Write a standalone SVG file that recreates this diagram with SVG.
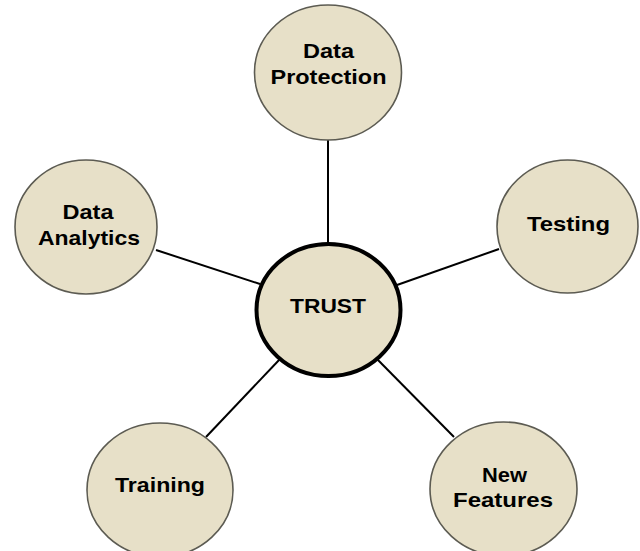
<svg xmlns="http://www.w3.org/2000/svg" width="640" height="551" viewBox="0 0 640 551">
  <style>
    .bubble { fill: #e7e0c8; stroke: #5c5b52; stroke-width: 1.6; }
    .core { fill: #e7e0c8; stroke: #000000; stroke-width: 4; }
    .link { stroke: #000000; stroke-width: 2; fill: none; }
    .label { font-family: "Liberation Sans", Arial, sans-serif; font-weight: bold; font-size: 21px; fill: #000000; text-anchor: middle; }
  </style>
  <rect width="640" height="551" fill="#ffffff"/>

  <!-- spokes from the hub to each topic -->
  <g id="connectors">
    <line class="link" x1="328" y1="139" x2="328" y2="245"/>
    <line class="link" x1="156" y1="250" x2="260" y2="284"/>
    <line class="link" x1="499" y1="249" x2="397" y2="285"/>
    <line class="link" x1="206" y1="437" x2="280" y2="359"/>
    <line class="link" x1="454" y1="437" x2="377" y2="359"/>
  </g>

  <g id="data-protection">
    <ellipse class="bubble" cx="328" cy="72.5" rx="73.5" ry="67.5"/>
    <text class="label" x="328.5" y="58" textLength="51" lengthAdjust="spacingAndGlyphs">Data</text>
    <text class="label" x="328.5" y="84" textLength="116" lengthAdjust="spacingAndGlyphs">Protection</text>
  </g>

  <g id="data-analytics">
    <ellipse class="bubble" cx="86" cy="227" rx="71" ry="67"/>
    <text class="label" x="88" y="219" textLength="51" lengthAdjust="spacingAndGlyphs">Data</text>
    <text class="label" x="89" y="245" textLength="102" lengthAdjust="spacingAndGlyphs">Analytics</text>
  </g>

  <g id="testing">
    <ellipse class="bubble" cx="567.5" cy="226.5" rx="70.5" ry="66.5"/>
    <text class="label" x="568.5" y="231" textLength="83" lengthAdjust="spacingAndGlyphs">Testing</text>
  </g>

  <g id="trust">
    <ellipse class="core" cx="328.5" cy="310" rx="72" ry="66"/>
    <text class="label" x="328" y="313" textLength="76" lengthAdjust="spacingAndGlyphs">TRUST</text>
  </g>

  <g id="training">
    <ellipse class="bubble" cx="160" cy="490" rx="73" ry="67"/>
    <text class="label" x="160" y="492" textLength="90" lengthAdjust="spacingAndGlyphs">Training</text>
  </g>

  <g id="new-features">
    <ellipse class="bubble" cx="503.5" cy="489" rx="73.5" ry="67"/>
    <text class="label" x="504.5" y="482" textLength="45" lengthAdjust="spacingAndGlyphs">New</text>
    <text class="label" x="503" y="507" textLength="100" lengthAdjust="spacingAndGlyphs">Features</text>
  </g>
</svg>
